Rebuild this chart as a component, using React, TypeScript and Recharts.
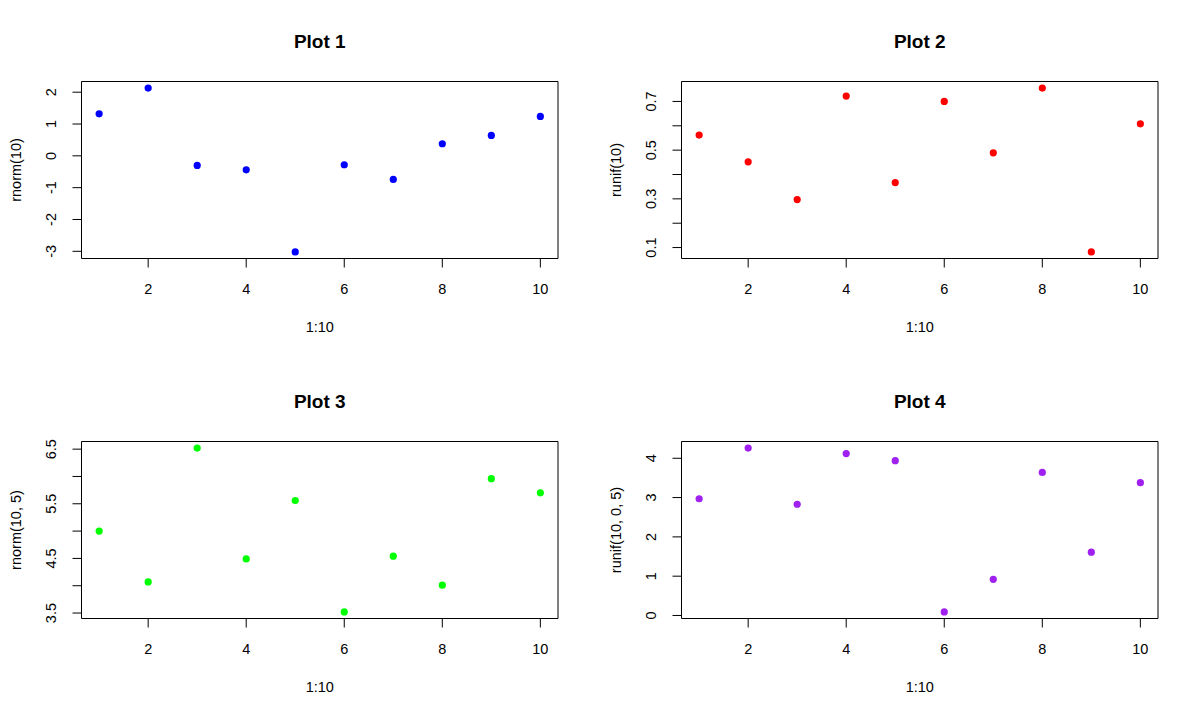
import { ScatterChart, Scatter, XAxis, YAxis, ReferenceArea, Label } from "recharts";

const FONT = "'Liberation Sans', Arial, Helvetica, sans-serif";

const xs = [1, 2, 3, 4, 5, 6, 7, 8, 9, 10];
const rnorm10 = [1.32, 2.13, -0.3, -0.44, -3.02, -0.28, -0.74, 0.38, 0.64, 1.24];
const runif10 = [0.562, 0.452, 0.297, 0.722, 0.367, 0.7, 0.489, 0.755, 0.082, 0.608];
const rnorm10mean5 = [5.0, 4.07, 6.52, 4.49, 5.56, 3.52, 4.54, 4.01, 5.96, 5.7];
const runif10to5 = [2.97, 4.26, 2.83, 4.12, 3.94, 0.09, 0.92, 3.64, 1.61, 3.38];

const xTicks = [2, 4, 6, 8, 10];
const yTicks1 = [-3, -2, -1, 0, 1, 2];
const yTicks2 = [0.1, 0.2, 0.3, 0.4, 0.5, 0.6, 0.7];
const yLabels2 = [0.1, 0.3, 0.5, 0.7];
const yTicks3 = [3.5, 4, 4.5, 5, 5.5, 6, 6.5];
const yLabels3 = [3.5, 4.5, 5.5, 6.5];
const yTicks4 = [0, 1, 2, 3, 4];

const W = 600;
const H = 360;
const BOX_LEFT = 81.5;
const BOX_RIGHT = 558;
const BOX_TOP = 81.5;
const BOX_BOTTOM = 258.5;
const X_AXIS_H = 60;
const TICK = 9;

// R pads the data range by 4% on each side
function padded(v: number[]): [number, number] {
  const lo = Math.min(...v);
  const hi = Math.max(...v);
  const d = (hi - lo) * 0.04;
  return [lo - d, hi + d];
}

const xDomain = padded(xs);

interface PanelProps {
  title: string;
  ylab: string;
  values: number[];
  color: string;
  yTicks: number[];
  yLabels: number[];
  left: number;
  top: number;
}

function Panel({ title, ylab, values, color, yTicks, yLabels, left, top }: PanelProps) {
  const data = xs.map((x, i) => ({ x, y: values[i] }));
  const yDomain = padded(values);
  const midY = (BOX_TOP + BOX_BOTTOM) / 2;

  const XTick = (p: any) => (
    <text
      x={p.x}
      y={BOX_BOTTOM + 30.5}
      textAnchor="middle"
      dominantBaseline="central"
      fontFamily={FONT}
      fontSize={14.5}
      fill="#000"
    >
      {p.payload.value}
    </text>
  );

  const YTick = (p: any) => {
    const v = p.payload.value;
    if (!yLabels.includes(v)) return <g />;
    const tx = BOX_LEFT - 30;
    return (
      <text
        x={tx}
        y={p.y}
        transform={`rotate(-90 ${tx} ${p.y})`}
        textAnchor="middle"
        dominantBaseline="central"
        fontFamily={FONT}
        fontSize={14.5}
        fill="#000"
      >
        {String(v)}
      </text>
    );
  };

  return (
    <div style={{ position: "absolute", left, top, width: W, height: H }}>
      <div
        style={{
          position: "absolute",
          left: BOX_LEFT,
          width: BOX_RIGHT - BOX_LEFT,
          top: 31.7,
          textAlign: "center",
          fontFamily: FONT,
          fontWeight: "bold",
          fontSize: 19,
          lineHeight: 1,
          color: "#000",
        }}
      >
        {title}
      </div>
      <ScatterChart
        width={W}
        height={H}
        margin={{ top: BOX_TOP, right: W - BOX_RIGHT, bottom: H - BOX_BOTTOM - X_AXIS_H, left: 0 }}
      >
        <XAxis
          type="number"
          dataKey="x"
          domain={xDomain}
          ticks={xTicks}
          interval={0}
          allowDataOverflow
          axisLine={false}
          tickLine={{ stroke: "#000" }}
          tickSize={TICK}
          height={X_AXIS_H}
          tick={XTick}
        >
          <Label
            content={() => (
              <text
                x={(BOX_LEFT + BOX_RIGHT) / 2}
                y={327}
                textAnchor="middle"
                dominantBaseline="central"
                fontFamily={FONT}
                fontSize={14.5}
                fill="#000"
              >
                1:10
              </text>
            )}
          />
        </XAxis>
        <YAxis
          type="number"
          dataKey="y"
          domain={yDomain}
          ticks={yTicks}
          interval={0}
          allowDataOverflow
          axisLine={false}
          tickLine={{ stroke: "#000" }}
          tickSize={TICK}
          width={BOX_LEFT}
          tick={YTick}
        >
          <Label
            content={() => (
              <text
                x={15.5}
                y={midY}
                transform={`rotate(-90 15.5 ${midY})`}
                textAnchor="middle"
                dominantBaseline="central"
                fontFamily={FONT}
                fontSize={14.5}
                fill="#000"
              >
                {ylab}
              </text>
            )}
          />
        </YAxis>
        <Scatter
          data={data}
          isAnimationActive={false}
          shape={(p: any) => <circle cx={p.cx} cy={p.cy} r={3.6} fill={color} />}
        />
        <ReferenceArea
          x1={xDomain[0]}
          x2={xDomain[1]}
          y1={yDomain[0]}
          y2={yDomain[1]}
          fill="none"
          fillOpacity={0}
          stroke="#000"
          strokeWidth={1}
          ifOverflow="visible"
        />
      </ScatterChart>
    </div>
  );
}

export default function App() {
  return (
    <div
      style={{
        position: "absolute",
        left: 0,
        top: 0,
        width: 1200,
        height: 720,
        background: "#fff",
        overflow: "hidden",
      }}
    >
      <Panel title="Plot 1" ylab="rnorm(10)" values={rnorm10} color="#0000FF" yTicks={yTicks1} yLabels={yTicks1} left={0} top={0} />
      <Panel title="Plot 2" ylab="runif(10)" values={runif10} color="#FF0000" yTicks={yTicks2} yLabels={yLabels2} left={600} top={0} />
      <Panel title="Plot 3" ylab="rnorm(10, 5)" values={rnorm10mean5} color="#00FF00" yTicks={yTicks3} yLabels={yLabels3} left={0} top={360} />
      <Panel title="Plot 4" ylab="runif(10, 0, 5)" values={runif10to5} color="#A020F0" yTicks={yTicks4} yLabels={yTicks4} left={600} top={360} />
    </div>
  );
}
